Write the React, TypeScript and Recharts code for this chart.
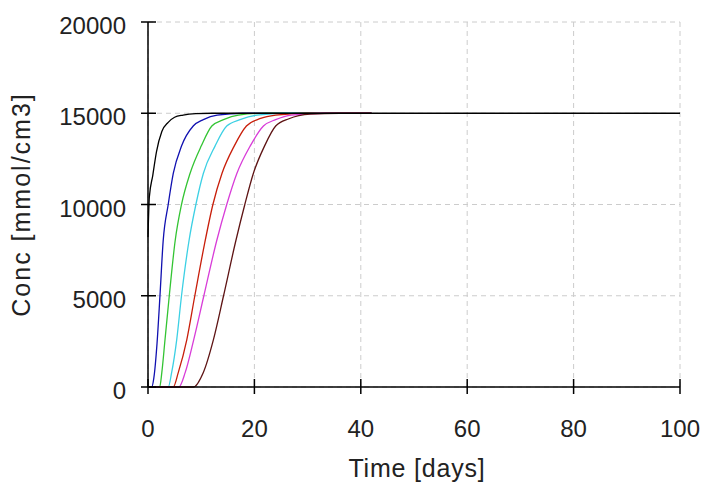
import { LineChart, Line, XAxis, YAxis, CartesianGrid, Label } from 'recharts';

// time [days] / concentration pairs, one list per run
const RUN_BLACK = [
  [0, 8200], [0.25, 10400], [0.9, 11600], [1.6, 12900], [2.6, 14000], [3.8, 14500],
  [5, 14780], [6.6, 14900], [9, 14980], [12, 15000], [100, 15000],
];
const RUN_BLUE = [
  [0, 0], [0.7, 0], [1.1, 500], [1.7, 2400], [2.25, 5000], [2.85, 8000], [3.8, 10000],
  [4.75, 11700], [6.3, 13200], [8.5, 14300], [10.4, 14650], [13, 14900], [18, 15000], [42, 15000],
];
const RUN_GREEN = [
  [0, 0], [2.2, 0], [2.6, 800], [3.2, 2600], [4.0, 5000], [5.1, 8000], [6.3, 10000],
  [7.9, 11700], [10, 13200], [12, 14300], [14.2, 14650], [17, 14900], [22, 15000], [42, 15000],
];
const RUN_CYAN = [
  [0, 0], [3.8, 0], [4.45, 800], [5.4, 2600], [6.3, 5000], [7.7, 8000], [9.0, 10000],
  [10.4, 11700], [12.6, 13200], [14.8, 14300], [17.3, 14650], [20.5, 14900], [26, 15000], [42, 15000],
];
const RUN_RED = [
  [0, 0], [4.75, 0], [5.7, 800], [7.3, 2600], [8.8, 5000], [10.6, 7800], [12.2, 10000],
  [13.9, 11700], [16.2, 13200], [18.5, 14300], [21, 14700], [24, 14900], [30, 15000], [42, 15000],
];
const RUN_MAGENTA = [
  [0, 0], [5.8, 0], [7.0, 800], [8.6, 2600], [10.5, 5000], [12.9, 8000], [14.8, 10000],
  [16.7, 11700], [19.2, 13200], [21.7, 14300], [24, 14650], [27, 14900], [33, 15000], [42, 15000],
];
const RUN_DARKRED = [
  [0, 0], [8.5, 0], [10.4, 800], [12.3, 2600], [14.2, 5000], [16.5, 8000], [18.2, 10000],
  [19.8, 11700], [21.9, 13200], [24, 14300], [26.5, 14700], [30.5, 14950], [36, 15000], [42, 15000],
];

const X_TICKS = [0, 20, 40, 60, 80, 100];
const Y_TICKS = [0, 5000, 10000, 15000, 20000];

const toRows = (pts: number[][]) => pts.map(([t, c]) => ({ t, c }));

const SERIES = [
  { name: 'run1', pts: RUN_BLUE, color: '#1010b0' },
  { name: 'run2', pts: RUN_GREEN, color: '#33c433' },
  { name: 'run3', pts: RUN_CYAN, color: '#3cd0e4' },
  { name: 'run4', pts: RUN_RED, color: '#c81e0a' },
  { name: 'run5', pts: RUN_MAGENTA, color: '#d83cd8' },
  { name: 'run6', pts: RUN_DARKRED, color: '#5e1414' },
  { name: 'run0', pts: RUN_BLACK, color: '#000000' },
];

const FONT = '"Liberation Sans", Arial, sans-serif';

function YTick(props: any) {
  const { x, y, payload } = props;
  return (
    <g>
      <line x1={x - 7} x2={x + 8} y1={y} y2={y} stroke="#000" strokeWidth={1.5} />
      <text x={x - 22} y={y} dy={12} textAnchor="end" fontSize={24} fill="#222" fontFamily={FONT}>
        {payload.value}
      </text>
    </g>
  );
}

function XTick(props: any) {
  const { x, y, payload } = props;
  return (
    <g>
      <line x1={x} x2={x} y1={y - 8} y2={y + 7} stroke="#000" strokeWidth={1.5} />
      <text x={x} y={y} dy={50} textAnchor="middle" fontSize={24} fill="#222" fontFamily={FONT}>
        {payload.value}
      </text>
    </g>
  );
}

export default function App() {
  return (
    <div style={{ position: 'absolute', left: 0, top: 0, background: '#fff' }}>
      <LineChart width={702} height={482} margin={{ top: 22, right: 22, left: 147, bottom: 94 }}>
        <CartesianGrid stroke="#cccccc" strokeDasharray="5 4" />
        <XAxis
          dataKey="t"
          type="number"
          domain={[0, 100]}
          ticks={X_TICKS}
          height={1}
          tickSize={0}
          tickMargin={0}
          tick={<XTick />}
          axisLine={{ stroke: '#000', strokeWidth: 1.5 }}
          tickLine={false}
          allowDuplicatedCategory={false}
        >
          <Label
            content={(p: any) => {
              const vb = p.viewBox;
              return (
                <text
                  x={vb.x + vb.width / 2 + 3}
                  y={vb.y + 90}
                  textAnchor="middle"
                  fontSize={25}
                  letterSpacing={0.8}
                  fill="#222"
                  fontFamily={FONT}
                >
                  Time [days]
                </text>
              );
            }}
          />
        </XAxis>
        <YAxis
          type="number"
          domain={[0, 20000]}
          ticks={Y_TICKS}
          width={1}
          tickSize={0}
          tickMargin={0}
          tick={<YTick />}
          axisLine={{ stroke: '#000', strokeWidth: 1.5 }}
          tickLine={false}
        >
          <Label
            content={(p: any) => {
              const vb = p.viewBox;
              const cx = 21;
              const cy = vb.y + vb.height / 2;
              return (
                <text
                  x={cx}
                  y={cy}
                  dy={9}
                  transform={`rotate(-90 ${cx} ${cy})`}
                  textAnchor="middle"
                  fontSize={25}
                  letterSpacing={2}
                  fill="#222"
                  fontFamily={FONT}
                >
                  Conc [mmol/cm3]
                </text>
              );
            }}
          />
        </YAxis>
        {SERIES.map((s) => (
          <Line
            key={s.name}
            data={toRows(s.pts)}
            dataKey="c"
            type="monotone"
            stroke={s.color}
            strokeWidth={1.3}
            dot={false}
            isAnimationActive={false}
          />
        ))}
      </LineChart>
    </div>
  );
}
